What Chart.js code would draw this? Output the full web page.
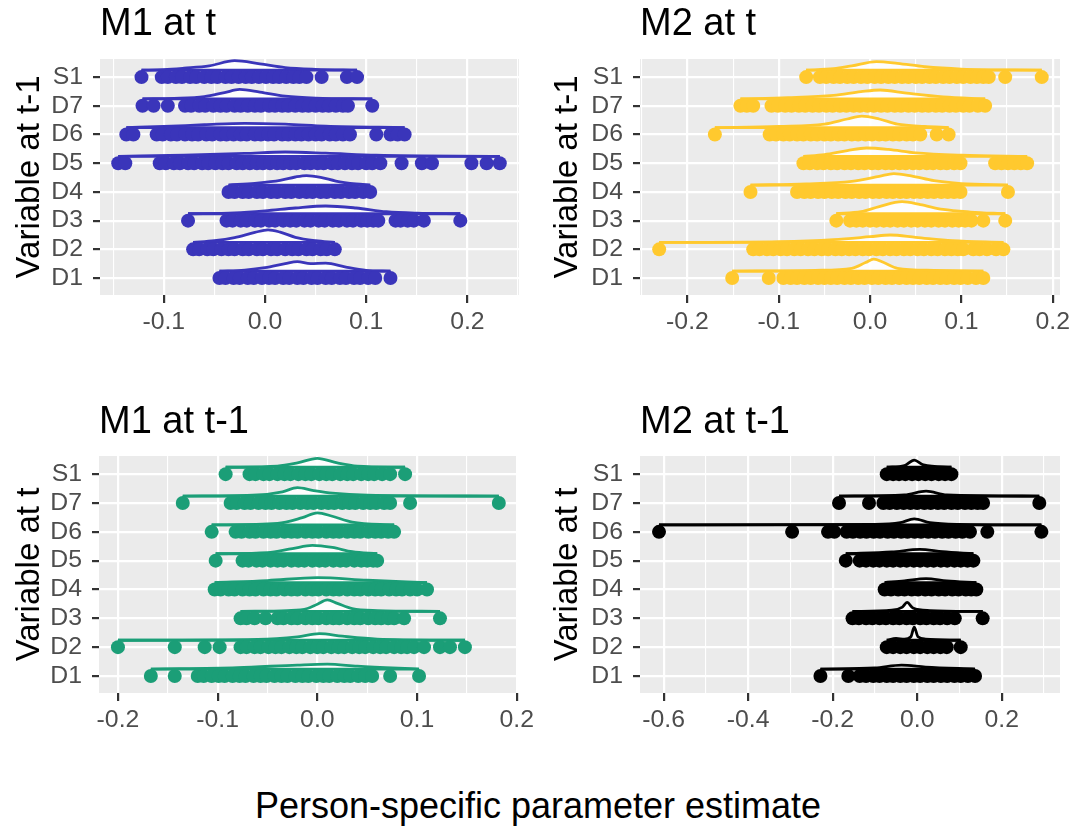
<!DOCTYPE html>
<html>
<head>
<meta charset="utf-8">
<script src="https://cdn.jsdelivr.net/npm/chart.js@4.4.1/dist/chart.umd.min.js"></script>
<style>
  html, body { margin: 0; padding: 0; background: #fff; }
  body { width: 1076px; height: 830px; position: relative; overflow: hidden; font-family: "Liberation Sans", Arial, sans-serif; }
  canvas { position: absolute; }
  #xtitle { position: absolute; left: 0; width: 1076px; top: 788px; text-align: center; font-size: 36px; line-height: 36px; color: #000; }
</style>
</head>
<body>
<canvas id="m1t" width="538" height="340" style="left:0;top:0"></canvas>
<canvas id="m2t" width="538" height="340" style="left:538px;top:0"></canvas>
<canvas id="m1lag" width="538" height="360" style="left:0;top:380px"></canvas>
<canvas id="m2lag" width="538" height="360" style="left:538px;top:380px"></canvas>
<div id="xtitle">Person-specific parameter estimate</div>
<script>
// categories, bottom to top
const rows = ["D1", "D2", "D3", "D4", "D5", "D6", "D7", "S1"]

// ---- M1 at t ----
const m1tPoints = [
  [-0.045, -0.039, -0.031, -0.025, -0.017, -0.011, -0.003, 0.004, 0.010, 0.018, 0.024, 0.032, 0.038, 0.046, 0.052, 0.060, 0.066, 0.074, 0.080, 0.088, 0.094, 0.102, 0.109, 0.124],
  [-0.071, -0.065, -0.057, -0.051, -0.043, -0.036, -0.030, -0.022, -0.016, -0.008, -0.002, 0.006, 0.012, 0.020, 0.027, 0.033, 0.041, 0.047, 0.055, 0.061, 0.069],
  [-0.076, -0.038, -0.032, -0.024, -0.018, -0.010, -0.004, 0.004, 0.010, 0.018, 0.025, 0.031, 0.039, 0.045, 0.053, 0.059, 0.067, 0.073, 0.081, 0.087, 0.095, 0.101, 0.107, 0.112, 0.129, 0.134, 0.141, 0.147, 0.157, 0.193],
  [-0.036, -0.030, -0.022, -0.016, -0.008, -0.002, 0.006, 0.012, 0.020, 0.026, 0.034, 0.041, 0.047, 0.055, 0.061, 0.069, 0.075, 0.083, 0.089, 0.097, 0.104],
  [-0.145, -0.138, -0.104, -0.098, -0.090, -0.084, -0.076, -0.070, -0.062, -0.056, -0.049, -0.042, -0.036, -0.028, -0.022, -0.015, -0.008, -0.002, 0.005, 0.012, 0.018, 0.025, 0.031, 0.039, 0.045, 0.052, 0.058, 0.066, 0.072, 0.079, 0.086, 0.092, 0.100, 0.106, 0.114, 0.135, 0.155, 0.165, 0.204, 0.219, 0.232],
  [-0.137, -0.130, -0.107, -0.101, -0.093, -0.087, -0.079, -0.072, -0.066, -0.058, -0.052, -0.044, -0.038, -0.031, -0.024, -0.018, -0.010, -0.004, 0.003, 0.009, 0.017, 0.023, 0.030, 0.036, 0.043, 0.050, 0.056, 0.064, 0.070, 0.077, 0.084, 0.110, 0.124, 0.131, 0.138],
  [-0.121, -0.110, -0.096, -0.079, -0.073, -0.065, -0.059, -0.051, -0.044, -0.038, -0.030, -0.024, -0.017, -0.010, -0.004, 0.004, 0.010, 0.017, 0.023, 0.030, 0.037, 0.043, 0.050, 0.057, 0.063, 0.070, 0.077, 0.082, 0.106],
  [-0.122, -0.102, -0.096, -0.088, -0.082, -0.074, -0.068, -0.060, -0.053, -0.047, -0.039, -0.033, -0.026, -0.019, -0.013, -0.006, 0.001, 0.008, 0.014, 0.021, 0.028, 0.034, 0.041, 0.056, 0.081, 0.091]
]
const m1tDensity = [
  [[-0.045, 0], [-0.02, 0.04], [0.0, 0.12], [0.02, 0.26], [0.032, 0.33], [0.045, 0.26], [0.06, 0.28], [0.08, 0.14], [0.1, 0.03], [0.124, 0]],
  [[-0.071, 0], [-0.05, 0.06], [-0.03, 0.17], [-0.01, 0.35], [0.003, 0.44], [0.015, 0.36], [0.03, 0.18], [0.05, 0.06], [0.069, 0]],
  [[-0.076, 0], [-0.03, 0.03], [0.0, 0.1], [0.03, 0.2], [0.06, 0.27], [0.09, 0.2], [0.12, 0.07], [0.15, 0.02], [0.193, 0]],
  [[-0.036, 0], [-0.01, 0.06], [0.015, 0.16], [0.03, 0.28], [0.041, 0.33], [0.055, 0.27], [0.07, 0.14], [0.09, 0.04], [0.104, 0]],
  [[-0.145, 0], [-0.08, 0.04], [-0.02, 0.1], [0.02, 0.15], [0.06, 0.11], [0.11, 0.04], [0.232, 0]],
  [[-0.137, 0], [-0.1, 0.04], [-0.06, 0.1], [-0.02, 0.15], [0.02, 0.12], [0.06, 0.05], [0.138, 0]],
  [[-0.121, 0], [-0.09, 0.02], [-0.06, 0.08], [-0.04, 0.22], [-0.025, 0.33], [-0.005, 0.24], [0.02, 0.1], [0.05, 0.03], [0.106, 0]],
  [[-0.122, 0], [-0.1, 0.02], [-0.08, 0.07], [-0.055, 0.15], [-0.03, 0.33], [-0.005, 0.22], [0.02, 0.09], [0.05, 0.03], [0.091, 0]]
]
const m1tTicks = [-0.1, 0, 0.1, 0.2]
const m1tMinor = [-0.15, -0.05, 0.05, 0.15, 0.25]
const m1tTickLabels = ["-0.1", "0.0", "0.1", "0.2"]

// ---- M2 at t ----
const m2tPoints = [
  [-0.151, -0.111, -0.095, -0.087, -0.080, -0.072, -0.065, -0.057, -0.050, -0.043, -0.036, -0.028, -0.021, -0.013, -0.006, 0.002, 0.009, 0.017, 0.024, 0.032, 0.040, 0.047, 0.054, 0.062, 0.069, 0.077, 0.084, 0.092, 0.099, 0.107, 0.116, 0.124],
  [-0.231, -0.128, -0.121, -0.113, -0.106, -0.098, -0.091, -0.083, -0.076, -0.068, -0.061, -0.053, -0.046, -0.038, -0.031, -0.023, -0.016, -0.008, -0.001, 0.007, 0.014, 0.022, 0.029, 0.037, 0.044, 0.052, 0.059, 0.067, 0.074, 0.082, 0.089, 0.096, 0.102, 0.113, 0.120, 0.128, 0.138, 0.146],
  [-0.037, -0.022, -0.015, -0.008, 0.000, 0.007, 0.015, 0.022, 0.030, 0.037, 0.045, 0.052, 0.060, 0.067, 0.075, 0.082, 0.090, 0.097, 0.104, 0.111, 0.124, 0.148],
  [-0.131, -0.080, -0.072, -0.065, -0.057, -0.050, -0.042, -0.035, -0.027, -0.020, -0.012, -0.005, 0.003, 0.010, 0.018, 0.025, 0.033, 0.040, 0.048, 0.055, 0.063, 0.070, 0.078, 0.085, 0.092, 0.099, 0.151],
  [-0.073, -0.066, -0.058, -0.051, -0.043, -0.036, -0.028, -0.021, -0.013, -0.006, 0.002, 0.009, 0.017, 0.024, 0.032, 0.039, 0.047, 0.054, 0.062, 0.069, 0.077, 0.084, 0.092, 0.099, 0.137, 0.144, 0.151, 0.158, 0.165, 0.172],
  [-0.170, -0.110, -0.103, -0.095, -0.088, -0.080, -0.073, -0.065, -0.058, -0.050, -0.043, -0.035, -0.028, -0.020, -0.013, -0.005, 0.002, 0.010, 0.017, 0.025, 0.032, 0.040, 0.047, 0.055, 0.073, 0.086],
  [-0.142, -0.135, -0.128, -0.108, -0.101, -0.093, -0.086, -0.078, -0.071, -0.063, -0.056, -0.048, -0.041, -0.033, -0.026, -0.018, -0.011, -0.003, 0.004, 0.012, 0.019, 0.027, 0.034, 0.042, 0.049, 0.057, 0.064, 0.072, 0.079, 0.087, 0.094, 0.102, 0.109, 0.118, 0.126],
  [-0.070, -0.055, -0.048, -0.040, -0.033, -0.025, -0.018, -0.010, -0.003, 0.005, 0.012, 0.020, 0.027, 0.035, 0.042, 0.050, 0.057, 0.065, 0.072, 0.080, 0.087, 0.095, 0.102, 0.110, 0.117, 0.124, 0.130, 0.148, 0.188]
]
const m2tDensity = [
  [[-0.151, 0], [-0.06, 0.03], [-0.02, 0.1], [-0.005, 0.3], [0.004, 0.42], [0.015, 0.3], [0.03, 0.1], [0.07, 0.03], [0.124, 0]],
  [[-0.231, 0], [-0.1, 0.03], [-0.04, 0.1], [0.0, 0.2], [0.022, 0.26], [0.05, 0.18], [0.09, 0.06], [0.146, 0]],
  [[-0.037, 0], [-0.01, 0.07], [0.01, 0.25], [0.035, 0.42], [0.055, 0.32], [0.08, 0.15], [0.11, 0.06], [0.148, 0]],
  [[-0.131, 0], [-0.07, 0.04], [-0.02, 0.13], [0.01, 0.3], [0.026, 0.4], [0.045, 0.32], [0.07, 0.15], [0.1, 0.05], [0.151, 0]],
  [[-0.073, 0], [-0.05, 0.06], [-0.025, 0.2], [-0.004, 0.29], [0.02, 0.24], [0.05, 0.12], [0.1, 0.04], [0.172, 0]],
  [[-0.17, 0], [-0.1, 0.04], [-0.05, 0.12], [-0.025, 0.3], [-0.009, 0.4], [0.01, 0.3], [0.03, 0.12], [0.06, 0.04], [0.086, 0]],
  [[-0.142, 0], [-0.09, 0.04], [-0.04, 0.12], [-0.01, 0.25], [0.011, 0.31], [0.04, 0.2], [0.08, 0.07], [0.126, 0]],
  [[-0.07, 0], [-0.04, 0.05], [-0.02, 0.15], [0.007, 0.3], [0.03, 0.24], [0.06, 0.12], [0.1, 0.04], [0.188, 0]]
]
const m2tTicks = [-0.2, -0.1, 0, 0.1, 0.2]
const m2tMinor = [-0.25, -0.15, -0.05, 0.05, 0.15]
const m2tTickLabels = ["-0.2", "-0.1", "0.0", "0.1", "0.2"]

// ---- M1 at t-1 ----
const m1lagPoints = [
  [-0.167, -0.143, -0.120, -0.114, -0.106, -0.099, -0.093, -0.085, -0.078, -0.072, -0.064, -0.057, -0.051, -0.043, -0.036, -0.030, -0.022, -0.015, -0.009, -0.001, 0.006, 0.012, 0.020, 0.027, 0.033, 0.041, 0.048, 0.055, 0.073, 0.102],
  [-0.200, -0.143, -0.113, -0.098, -0.077, -0.071, -0.063, -0.057, -0.049, -0.042, -0.036, -0.028, -0.021, -0.015, -0.007, 0.000, 0.006, 0.014, 0.021, 0.027, 0.035, 0.042, 0.048, 0.056, 0.063, 0.069, 0.077, 0.084, 0.090, 0.097, 0.107, 0.123, 0.133, 0.148],
  [-0.077, -0.071, -0.063, -0.052, -0.040, -0.034, -0.026, -0.020, -0.012, -0.005, 0.001, 0.009, 0.016, 0.022, 0.030, 0.037, 0.043, 0.051, 0.058, 0.064, 0.071, 0.077, 0.087, 0.123],
  [-0.103, -0.097, -0.089, -0.083, -0.075, -0.068, -0.062, -0.054, -0.047, -0.041, -0.033, -0.026, -0.020, -0.012, -0.005, 0.001, 0.009, 0.016, 0.022, 0.030, 0.037, 0.043, 0.051, 0.058, 0.064, 0.072, 0.079, 0.085, 0.093, 0.100, 0.110],
  [-0.102, -0.075, -0.069, -0.061, -0.055, -0.047, -0.040, -0.034, -0.026, -0.019, -0.013, -0.005, 0.002, 0.008, 0.016, 0.023, 0.029, 0.037, 0.044, 0.050, 0.056, 0.060],
  [-0.106, -0.082, -0.076, -0.068, -0.062, -0.054, -0.047, -0.041, -0.033, -0.026, -0.020, -0.012, -0.005, 0.001, 0.009, 0.016, 0.022, 0.030, 0.037, 0.043, 0.051, 0.058, 0.064, 0.071, 0.077],
  [-0.135, -0.087, -0.081, -0.073, -0.067, -0.059, -0.052, -0.046, -0.038, -0.031, -0.025, -0.017, -0.010, -0.004, 0.004, 0.011, 0.017, 0.025, 0.032, 0.038, 0.046, 0.053, 0.059, 0.067, 0.073, 0.093, 0.182],
  [-0.092, -0.068, -0.062, -0.054, -0.048, -0.040, -0.033, -0.027, -0.019, -0.012, -0.006, 0.002, 0.009, 0.015, 0.023, 0.030, 0.036, 0.044, 0.051, 0.057, 0.065, 0.073, 0.088]
]
const m1lagDensity = [
  [[-0.167, 0], [-0.08, 0.05], [-0.02, 0.14], [0.01, 0.17], [0.04, 0.1], [0.102, 0]],
  [[-0.2, 0], [-0.06, 0.03], [-0.02, 0.12], [0.002, 0.23], [0.025, 0.14], [0.06, 0.04], [0.148, 0]],
  [[-0.077, 0], [-0.03, 0.03], [-0.01, 0.1], [0.0, 0.25], [0.01, 0.4], [0.02, 0.28], [0.035, 0.1], [0.06, 0.03], [0.123, 0]],
  [[-0.103, 0], [-0.05, 0.07], [0.0, 0.17], [0.05, 0.08], [0.11, 0]],
  [[-0.102, 0], [-0.05, 0.04], [-0.025, 0.18], [-0.005, 0.29], [0.015, 0.22], [0.035, 0.07], [0.06, 0]],
  [[-0.106, 0], [-0.04, 0.05], [-0.015, 0.25], [0.0, 0.42], [0.015, 0.3], [0.035, 0.1], [0.077, 0]],
  [[-0.135, 0], [-0.06, 0.04], [-0.035, 0.15], [-0.02, 0.29], [-0.005, 0.2], [0.015, 0.1], [0.05, 0.03], [0.182, 0]],
  [[-0.092, 0], [-0.04, 0.04], [-0.02, 0.15], [0.0, 0.31], [0.02, 0.15], [0.04, 0.04], [0.088, 0]]
]
const m1lagTicks = [-0.2, -0.1, 0, 0.1, 0.2]
const m1lagMinor = [-0.15, -0.05, 0.05, 0.15]
const m1lagTickLabels = ["-0.2", "-0.1", "0.0", "0.1", "0.2"]

// ---- M2 at t-1 ----
const m2lagPoints = [
  [-0.229, -0.163, -0.136, -0.121, -0.104, -0.089, -0.072, -0.057, -0.040, -0.025, -0.008, 0.007, 0.024, 0.039, 0.056, 0.071, 0.088, 0.103, 0.120, 0.137],
  [-0.072, -0.057, -0.040, -0.025, -0.008, 0.007, 0.024, 0.039, 0.055, 0.070, 0.103],
  [-0.153, -0.138, -0.121, -0.106, -0.089, -0.074, -0.057, -0.042, -0.025, -0.010, 0.007, 0.022, 0.039, 0.054, 0.071, 0.089, 0.155],
  [-0.077, -0.062, -0.045, -0.030, -0.013, 0.002, 0.019, 0.034, 0.051, 0.066, 0.083, 0.098, 0.115, 0.128, 0.140],
  [-0.169, -0.136, -0.121, -0.104, -0.089, -0.072, -0.057, -0.040, -0.025, -0.008, 0.007, 0.024, 0.039, 0.056, 0.071, 0.088, 0.103, 0.119, 0.133],
  [-0.611, -0.296, -0.211, -0.196, -0.167, -0.152, -0.135, -0.120, -0.103, -0.088, -0.070, -0.055, -0.038, -0.023, -0.006, 0.009, 0.026, 0.042, 0.059, 0.074, 0.091, 0.107, 0.125, 0.166, 0.294],
  [-0.185, -0.114, -0.080, -0.065, -0.048, -0.032, -0.016, 0.000, 0.017, 0.032, 0.049, 0.064, 0.081, 0.096, 0.113, 0.128, 0.143, 0.156, 0.289],
  [-0.072, -0.057, -0.043, -0.028, -0.012, 0.003, 0.019, 0.034, 0.051, 0.066, 0.081]
]
const m2lagDensity = [
  [[-0.229, 0], [-0.1, 0.04], [-0.037, 0.14], [0.02, 0.07], [0.137, 0]],
  [[-0.072, 0], [-0.05, 0.06], [-0.03, 0.04], [-0.015, 0.12], [-0.007, 0.45], [0.002, 0.12], [0.02, 0.04], [0.103, 0]],
  [[-0.153, 0], [-0.06, 0.04], [-0.035, 0.15], [-0.024, 0.31], [-0.01, 0.12], [0.03, 0.03], [0.155, 0]],
  [[-0.077, 0], [-0.03, 0.06], [0.021, 0.14], [0.07, 0.06], [0.14, 0]],
  [[-0.169, 0], [-0.06, 0.06], [0.006, 0.15], [0.06, 0.07], [0.133, 0]],
  [[-0.611, 0], [-0.1, 0.02], [-0.04, 0.08], [-0.007, 0.21], [0.03, 0.08], [0.1, 0.02], [0.294, 0]],
  [[-0.185, 0], [-0.03, 0.04], [0.021, 0.17], [0.07, 0.04], [0.289, 0]],
  [[-0.072, 0], [-0.03, 0.06], [-0.007, 0.25], [0.015, 0.08], [0.081, 0]]
]
const m2lagTicks = [-0.6, -0.4, -0.2, 0, 0.2]
const m2lagMinor = [-0.5, -0.3, -0.1, 0.1, 0.3]
const m2lagTickLabels = ["-0.6", "-0.4", "-0.2", "0.0", "0.2"]

const FONT = "'Liberation Sans', Arial, Helvetica, sans-serif"
const ridgeOffset = 0.24 // ridge baseline sits on top of the point row

// grey panel + left-aligned panel title
const panelDecor = {
  id: "panelDecor",
  beforeDraw(chart) {
    const { ctx, chartArea: a } = chart
    ctx.save()
    ctx.fillStyle = "#ebebeb"
    ctx.fillRect(a.left, a.top, a.right - a.left, a.bottom - a.top)
    ctx.restore()
  },
  afterDraw(chart, args, opts) {
    const { ctx, chartArea: a } = chart
    ctx.save()
    ctx.font = "38px " + FONT
    ctx.fillStyle = "#000"
    ctx.textBaseline = "alphabetic"
    ctx.textAlign = "left"
    ctx.fillText(opts.text, a.left, opts.y)
    ctx.restore()
  }
}

function isOn(list, v) {
  return list.findIndex(m => Math.abs(m - v) < 1e-9)
}

function makePanel(id, p) {
  const datasets = []
  rows.forEach((name, i) => {
    const cat = i + 1
    const base = cat + ridgeOffset
    const pts = p.points[i]
    datasets.push({
      type: "scatter",
      data: pts.map(x => ({ x, y: cat })),
      backgroundColor: p.color,
      borderWidth: 0,
      pointRadius: 7,
      pointHoverRadius: 7,
      order: 0
    })
    datasets.push({
      type: "line",
      data: [{ x: Math.min(...pts), y: base }, { x: Math.max(...pts), y: base }],
      borderColor: p.color,
      borderWidth: 2.8,
      pointRadius: 0,
      fill: false,
      showLine: true,
      order: 1
    })
    datasets.push({
      type: "line",
      data: p.density[i].map(([x, h]) => ({ x, y: base + h })),
      borderColor: p.color,
      borderWidth: 2.8,
      backgroundColor: "rgba(255,255,255,0.9)",
      fill: { value: base },
      cubicInterpolationMode: "monotone",
      pointRadius: 0,
      showLine: true,
      order: 2
    })
  })

  return new Chart(document.getElementById(id), {
    type: "scatter",
    data: { datasets },
    plugins: [panelDecor],
    options: {
      responsive: false,
      animation: false,
      devicePixelRatio: 1,
      events: [],
      layout: { padding: { top: p.top, right: p.right, left: 0, bottom: 0 } },
      plugins: {
        legend: { display: false },
        tooltip: { enabled: false },
        panelDecor: { text: p.title, y: p.titleY }
      },
      scales: {
        x: {
          type: "linear",
          min: p.xMin,
          max: p.xMax,
          afterBuildTicks: s => {
            s.ticks = p.ticks.concat(p.minor).sort((a, b) => a - b).map(v => ({ value: v }))
          },
          afterFit: s => { s.height = p.bottom },
          border: { display: false },
          grid: {
            color: "#ffffff",
            lineWidth: c => isOn(p.ticks, c.tick.value) >= 0 ? 2.2 : 1.1,
            tickColor: c => isOn(p.ticks, c.tick.value) >= 0 ? "#333333" : "rgba(0,0,0,0)",
            tickLength: 8,
            tickWidth: 2.2
          },
          ticks: {
            callback: v => {
              const k = isOn(p.ticks, v)
              return k >= 0 ? p.tickLabels[k] : ""
            },
            font: { size: 24.8, family: FONT },
            color: "#4d4d4d",
            padding: 4,
            maxRotation: 0,
            autoSkip: false
          }
        },
        y: {
          type: "linear",
          min: 0.41,
          max: 8.63,
          afterBuildTicks: s => { s.ticks = rows.map((r, i) => ({ value: i + 1 })) },
          afterFit: s => { s.width = p.left },
          border: { display: false },
          grid: {
            color: "#ffffff",
            lineWidth: 2.2,
            tickColor: "#333333",
            tickLength: 7,
            tickWidth: 2.2
          },
          ticks: {
            callback: v => rows[Math.round(v) - 1],
            font: { size: 24.8, family: FONT },
            color: "#4d4d4d",
            padding: 10,
            autoSkip: false
          },
          title: {
            display: true,
            text: p.yTitle,
            font: { size: 33, family: FONT },
            color: "#000000",
            padding: { top: 10, bottom: 0 }
          }
        }
      }
    }
  })
}

makePanel("m1t", {
  title: "M1 at t", titleY: 35, yTitle: "Variable at t-1",
  color: "#3a35ba", points: m1tPoints, density: m1tDensity,
  ticks: m1tTicks, minor: m1tMinor, tickLabels: m1tTickLabels,
  xMin: -0.163, xMax: 0.251, left: 100, right: 19, top: 59, bottom: 45
})
makePanel("m2t", {
  title: "M2 at t", titleY: 35, yTitle: "Variable at t-1",
  color: "#ffc92e", points: m2tPoints, density: m2tDensity,
  ticks: m2tTicks, minor: m2tMinor, tickLabels: m2tTickLabels,
  xMin: -0.252, xMax: 0.208, left: 102, right: 16, top: 59, bottom: 45
})
makePanel("m1lag", {
  title: "M1 at t-1", titleY: 53, yTitle: "Variable at t",
  color: "#1b9e77", points: m1lagPoints, density: m1lagDensity,
  ticks: m1lagTicks, minor: m1lagMinor, tickLabels: m1lagTickLabels,
  xMin: -0.219, xMax: 0.2, left: 99, right: 20, top: 76, bottom: 47
})
makePanel("m2lag", {
  title: "M2 at t-1", titleY: 53, yTitle: "Variable at t",
  color: "#000000", points: m2lagPoints, density: m2lagDensity,
  ticks: m2lagTicks, minor: m2lagMinor, tickLabels: m2lagTickLabels,
  xMin: -0.656, xMax: 0.338, left: 102, right: 16, top: 76, bottom: 47
})
</script>
</body>
</html>
